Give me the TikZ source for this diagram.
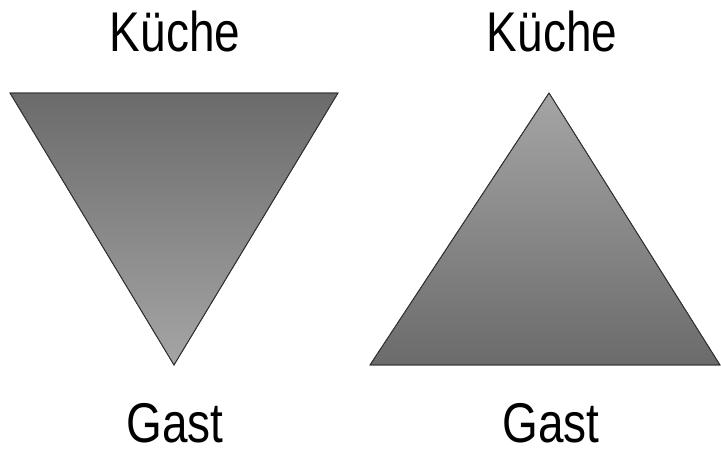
\documentclass[tikz,border=0pt]{standalone}
\usepackage{fontspec}
\setmainfont{Liberation Sans}[FakeStretch=0.82]
\usepackage{tikz}
\definecolor{darkgrey}{RGB}{107,107,107}
\definecolor{lightgrey}{RGB}{165,165,165}

\begin{document}
\begin{tikzpicture}[x=0.75pt, y=-0.75pt,
  label/.style={anchor=base, font=\fontsize{42}{50}\selectfont, inner sep=0pt},
  tri/.style={draw=black!80, line width=0.6pt}
]
\useasboundingbox (0,0) rectangle (721,452);

% left triangle, point down
\coordinate (l1) at (10,93);
\coordinate (l2) at (338,93);
\coordinate (l3) at (174,365);
\shade[tri, top color=darkgrey, bottom color=lightgrey] (l1) -- (l2) -- (l3) -- cycle;
\draw[tri] (l1) -- (l2) -- (l3) -- cycle;

% right triangle, point up
\coordinate (r1) at (549,93);
\coordinate (r2) at (720,365);
\coordinate (r3) at (370,365);
\shade[tri, top color=lightgrey, bottom color=darkgrey] (r1) -- (r2) -- (r3) -- cycle;
\draw[tri] (r1) -- (r2) -- (r3) -- cycle;

\node[label] (kuecheL) at (175,52) {Küche};
\node[label] (kuecheR) at (552,52) {Küche};
\node[label] (gastL)   at (175,442) {Gast};
\node[label] (gastR)   at (551,442) {Gast};

\end{tikzpicture}
\end{document}
